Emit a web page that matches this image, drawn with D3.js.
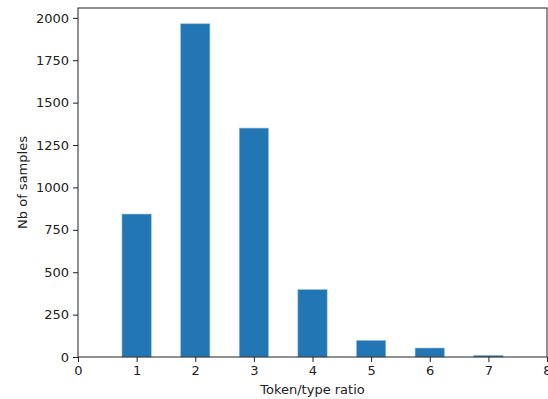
<!DOCTYPE html>
<html>
<head>
<meta charset="utf-8">
<script src="https://cdn.jsdelivr.net/npm/d3@7"></script>
<style>
  body { margin: 0; background: #fff; }
  svg text { font-family: "DejaVu Sans", sans-serif; }
</style>
</head>
<body>
<svg id="chart"></svg>
<script>
// data
const ratios = [1, 2, 3, 4, 5, 6, 7];
const counts = [843, 1965, 1350, 398, 98, 53, 10];
const xTicks = [0, 1, 2, 3, 4, 5, 6, 7, 8];
const yTicks = [0, 250, 500, 750, 1000, 1250, 1500, 1750, 2000];

const width = 548;
const height = 399;
const margin = { top: 8, right: 1, bottom: 42, left: 78 };

const svg = d3.select("#chart")
  .attr("width", width)
  .attr("height", height);

const x = d3.scaleLinear()
  .domain([0, 8])
  .range([margin.left, width - margin.right]);

const y = d3.scaleLinear()
  .domain([0, 2058])
  .range([height - margin.bottom, margin.top]);

// bars
svg.append("g")
  .selectAll("rect")
  .data(ratios)
  .join("rect")
  .attr("x", (d) => x(d - 0.25))
  .attr("y", (d, i) => y(counts[i]))
  .attr("width", x(0.5) - x(0))
  .attr("height", (d, i) => y(0) - y(counts[i]))
  .attr("fill", "#2376b4")
  .attr("stroke", "#9cc2de")
  .attr("stroke-width", 0.6);

// axes
const xAxis = svg.append("g")
  .attr("transform", `translate(0,${y(0)})`)
  .call(d3.axisBottom(x).tickValues(xTicks).tickFormat(d3.format("d")).tickSizeOuter(0).tickSize(5).tickPadding(4));

const yAxis = svg.append("g")
  .attr("transform", `translate(${margin.left},0)`)
  .call(d3.axisLeft(y).tickValues(yTicks).tickFormat(d3.format("d")).tickSizeOuter(0).tickSize(5).tickPadding(4));

[xAxis, yAxis].forEach((g) => {
  g.select(".domain").remove();
  g.selectAll("text").attr("font-size", 13).attr("fill", "#222").attr("font-family", "DejaVu Sans, sans-serif");
  g.selectAll("line").attr("stroke", "#222");
});

// frame
svg.append("rect")
  .attr("x", margin.left)
  .attr("y", margin.top)
  .attr("width", width - margin.right - margin.left)
  .attr("height", y(0) - margin.top)
  .attr("fill", "none")
  .attr("stroke", "#222")
  .attr("stroke-width", 1);

// labels
svg.append("text")
  .attr("x", (margin.left + width - margin.right) / 2)
  .attr("y", 394)
  .attr("text-anchor", "middle")
  .attr("font-size", 13)
  .attr("fill", "#222")
  .text("Token/type ratio");

svg.append("text")
  .attr("transform", `translate(27,${(margin.top + y(0)) / 2}) rotate(-90)`)
  .attr("text-anchor", "middle")
  .attr("font-size", 13)
  .attr("fill", "#222")
  .text("Nb of samples");
</script>
</body>
</html>
